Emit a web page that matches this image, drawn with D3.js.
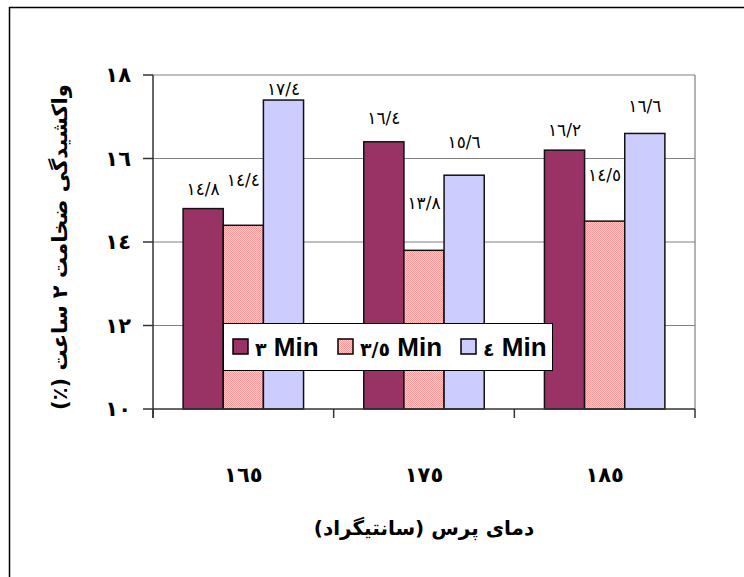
<!DOCTYPE html>
<html>
<head>
<meta charset="utf-8">
<script src="https://cdn.jsdelivr.net/npm/d3@7"></script>
<style>
  body { margin: 0; background: #fff; }
  svg { display: block; }
  .ar { font-family: "DejaVu Sans", sans-serif; }
</style>
</head>
<body>
<div id="chart"></div>
<script>
// data
const categories = ["١٦٥", "١٧٥", "١٨٥"];
const seriesNames = ["٣", "٣/٥", "٤"];
const seriesValues = [
  [14.8, 16.4, 16.2],   // 3 Min
  [14.4, 13.8, 14.5],   // 3.5 Min
  [17.4, 15.6, 16.6]    // 4 Min
];
const valueLabels = [
  ["١٤/٨", "١٦/٤", "١٦/٢"],
  ["١٤/٤", "١٣/٨", "١٤/٥"],
  ["١٧/٤", "١٥/٦", "١٦/٦"]
];
const yTicks = [10, 12, 14, 16, 18];
const yTickLabels = ["١٠", "١٢", "١٤", "١٦", "١٨"];
const yTitle = "واکشیدگی ضخامت ٢ ساعت (٪)";
const xTitle = "دمای پرس (سانتیگراد)";

// layout
const width = 744, height = 577;
const plot = { left: 153, right: 695, top: 75, bottom: 409 };
const fills = ["#993366", "url(#hatch)", "#CCCCFF"];
// labels were hand-placed in the original, lift above the bar top (px)
const labelLift = [[20, 24, 20], [45, 47, 46], [11, 33, 27]];

const svg = d3.select("#chart").append("svg")
  .attr("width", width)
  .attr("height", height);

const defs = svg.append("defs");
const pat = defs.append("pattern")
  .attr("id", "hatch")
  .attr("width", 2).attr("height", 2)
  .attr("patternUnits", "userSpaceOnUse");
pat.append("rect").attr("width", 2).attr("height", 2).attr("fill", "#FFD0D0");
pat.append("rect").attr("width", 1).attr("height", 1).attr("fill", "#FF9999");
pat.append("rect").attr("x", 1).attr("y", 1).attr("width", 1).attr("height", 1).attr("fill", "#FF9999");

// chart area border (runs off right and bottom)
svg.append("rect")
  .attr("x", 9.5).attr("y", 7.5)
  .attr("width", 800).attr("height", 700)
  .attr("fill", "#fff")
  .attr("stroke", "#000")
  .attr("stroke-width", 1.5);

// Excel gap width 150%: bar group = 3 bars, gap = 1.5 bars
const groupW = (plot.right - plot.left) / categories.length;
const barW = groupW / 4.5;

const y = d3.scaleLinear().domain([10, 18]).range([plot.bottom, plot.top]);

// gridlines + plot border
svg.append("g")
  .selectAll("line")
  .data(yTicks.filter(d => d > 10))
  .join("line")
  .attr("x1", plot.left).attr("x2", plot.right)
  .attr("y1", d => y(d)).attr("y2", d => y(d))
  .attr("stroke", "#808080").attr("stroke-width", 1.2);
svg.append("line")
  .attr("x1", plot.right).attr("x2", plot.right)
  .attr("y1", plot.top).attr("y2", plot.bottom)
  .attr("stroke", "#808080").attr("stroke-width", 1.2);

// bars
const groupX = i => plot.left + i * groupW + (groupW - 3 * barW) / 2;
seriesValues.forEach((vals, s) => {
  svg.append("g")
    .selectAll("rect")
    .data(vals)
    .join("rect")
    .attr("x", (d, i) => groupX(i) + s * barW)
    .attr("y", d => y(d))
    .attr("width", barW)
    .attr("height", d => y(10) - y(d))
    .attr("fill", fills[s])
    .attr("stroke", "#111")
    .attr("stroke-width", 1.5);
});

// value labels
seriesValues.forEach((vals, s) => {
  svg.append("g")
    .selectAll("text")
    .data(vals)
    .join("text")
    .attr("class", "ar")
    .attr("direction", "ltr")
    .attr("x", (d, i) => groupX(i) + s * barW + barW / 2)
    .attr("y", (d, i) => y(d) - labelLift[s][i])
    .attr("dy", "0.35em")
    .attr("text-anchor", "middle")
    .attr("font-size", 17)
    .text((d, i) => valueLabels[s][i]);
});

// y axis
const yAxis = svg.append("g");
yAxis.append("line")
  .attr("x1", plot.left).attr("x2", plot.left)
  .attr("y1", plot.top).attr("y2", plot.bottom + 9)
  .attr("stroke", "#333").attr("stroke-width", 1.5);
yAxis.selectAll(".tick")
  .data(yTicks)
  .join("line")
  .attr("x1", plot.left - 10).attr("x2", plot.left)
  .attr("y1", d => y(d)).attr("y2", d => y(d))
  .attr("stroke", "#333").attr("stroke-width", 1.5);
yAxis.selectAll("text")
  .data(yTicks)
  .join("text")
  .attr("class", "ar")
  .attr("x", plot.left - 22)
  .attr("y", d => y(d))
  .attr("dy", "0.35em")
  .attr("text-anchor", "end")
  .attr("font-size", 21)
  .attr("font-weight", "bold")
  .text((d, i) => yTickLabels[i]);

// x axis
const xAxis = svg.append("g");
xAxis.append("line")
  .attr("x1", plot.left).attr("x2", plot.right)
  .attr("y1", plot.bottom).attr("y2", plot.bottom)
  .attr("stroke", "#333").attr("stroke-width", 1.5);
xAxis.selectAll(".tick")
  .data(d3.range(categories.length + 1))
  .join("line")
  .attr("x1", i => plot.left + i * groupW).attr("x2", i => plot.left + i * groupW)
  .attr("y1", plot.bottom).attr("y2", plot.bottom + 9)
  .attr("stroke", "#333").attr("stroke-width", 1.5);
xAxis.selectAll("text")
  .data(categories)
  .join("text")
  .attr("class", "ar")
  .attr("x", (d, i) => plot.left + (i + 0.5) * groupW)
  .attr("y", 475)
  .attr("dy", "0.35em")
  .attr("text-anchor", "middle")
  .attr("font-size", 21)
  .attr("font-weight", "bold")
  .text(d => d);

// axis titles
svg.append("text")
  .attr("class", "ar")
  .attr("direction", "rtl")
  .attr("x", (plot.left + plot.right) / 2)
  .attr("y", 528)
  .attr("dy", "0.35em")
  .attr("text-anchor", "middle")
  .attr("font-size", 20)
  .attr("font-weight", "bold")
  .text(xTitle);

svg.append("text")
  .attr("class", "ar")
  .attr("direction", "rtl")
  .attr("transform", "translate(60,247) rotate(-90)")
  .attr("dy", "0.35em")
  .attr("text-anchor", "middle")
  .attr("font-size", 21)
  .attr("font-weight", "bold")
  .text(yTitle);

// legend
const legend = svg.append("g");
legend.append("rect")
  .attr("x", 223.5).attr("y", 323.5)
  .attr("width", 329).attr("height", 47)
  .attr("fill", "#fff")
  .attr("stroke", "#000").attr("stroke-width", 1);
const legendX = [233, 338, 461];
seriesNames.forEach((name, s) => {
  legend.append("rect")
    .attr("x", legendX[s]).attr("y", 339)
    .attr("width", 15).attr("height", 15)
    .attr("fill", fills[s])
    .attr("stroke", "#000").attr("stroke-width", 1.5);
  const t = legend.append("text")
    .attr("x", legendX[s] + 22)
    .attr("y", 356)
    .attr("direction", "ltr")
    .attr("font-weight", "bold");
  t.append("tspan")
    .attr("class", "ar")
    .attr("font-size", 19)
    .text(name);
  t.append("tspan")
    .attr("font-family", "'Liberation Sans', Arial, sans-serif")
    .attr("font-size", 26)
    .text(" Min");
});
</script>
</body>
</html>
